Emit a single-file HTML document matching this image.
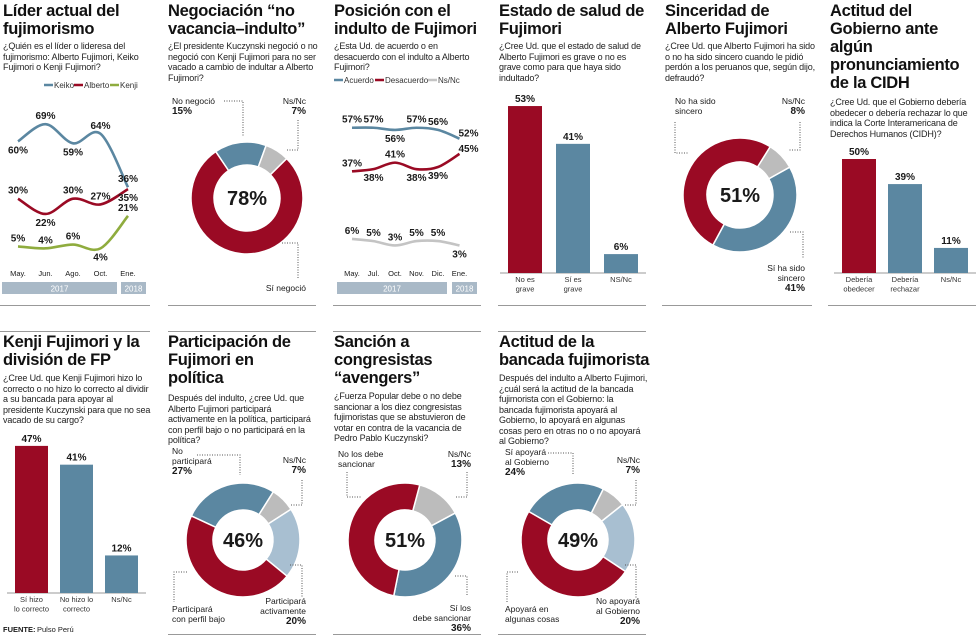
<!DOCTYPE html>
<html><head><meta charset="utf-8">
<style>
body{margin:0;width:980px;height:636px;background:#fff;overflow:hidden;font-family:"Liberation Sans",sans-serif;color:#1a1a1a;position:relative}
.t{position:absolute;font-weight:bold;font-size:16.5px;line-height:18px;letter-spacing:-0.3px;color:#111}
.s{position:absolute;font-size:9px;line-height:10.5px;color:#222;letter-spacing:-0.15px}
.rule{position:absolute;height:1px;background:#999}
svg{position:absolute;left:0;top:0}
</style></head><body>
<div class="t" style="left:3px;top:2px;width:150px">Líder actual del fujimorismo</div>
<div class="s" style="left:3px;top:41px;width:150px">¿Quién es el líder o lideresa del fujimorismo: Alberto Fujimori, Keiko Fujimori o Kenji Fujimori?</div>
<div class="t" style="left:168px;top:2px;width:150px">Negociación “no vacancia–indulto”</div>
<div class="s" style="left:168px;top:41px;width:150px">¿El presidente Kuczynski negoció o no negoció con Kenji Fujimori para no ser vacado a cambio de indultar a Alberto Fujimori?</div>
<div class="t" style="left:334px;top:2px;width:150px">Posición con el indulto de Fujimori</div>
<div class="s" style="left:334px;top:41px;width:150px">¿Esta Ud. de acuerdo o en desacuerdo con el indulto a Alberto Fujimori?</div>
<div class="t" style="left:499px;top:2px;width:150px">Estado de salud de Fujimori</div>
<div class="s" style="left:499px;top:41px;width:150px">¿Cree Ud. que el estado de salud de Alberto Fujimori es grave o no es grave como para que haya sido indultado?</div>
<div class="t" style="left:665px;top:2px;width:150px">Sinceridad de Alberto Fujimori</div>
<div class="s" style="left:665px;top:41px;width:150px">¿Cree Ud. que Alberto Fujimori ha sido o no ha sido sincero cuando le pidió perdón a los peruanos que, según dijo, defraudó?</div>
<div class="t" style="left:830px;top:2px;width:150px">Actitud del Gobierno ante algún pronunciamiento de la CIDH</div>
<div class="s" style="left:830px;top:97px;width:150px">¿Cree Ud. que el Gobierno debería obedecer o debería rechazar lo que indica la Corte Interamericana de Derechos Humanos (CIDH)?</div>

<div class="t" style="left:3px;top:333px;width:150px">Kenji Fujimori y la división de FP</div>
<div class="s" style="left:3px;top:373px;width:150px">¿Cree Ud. que Kenji Fujimori hizo lo correcto o no hizo lo correcto al dividir a su bancada para apoyar al presidente Kuczynski para que no sea vacado de su cargo?</div>
<div class="t" style="left:168px;top:333px;width:135px">Participación de Fujimori en política</div>
<div class="s" style="left:168px;top:393px;width:150px">Después del indulto, ¿cree Ud. que Alberto Fujimori participará activamente en la política, participará con perfil bajo o no participará en la política?</div>
<div class="t" style="left:334px;top:333px;width:150px">Sanción a congresistas “avengers”</div>
<div class="s" style="left:334px;top:391px;width:150px">¿Fuerza Popular debe o no debe sancionar a los diez congresistas fujimoristas que se abstuvieron de votar en contra de la vacancia de Pedro Pablo Kuczynski?</div>
<div class="t" style="left:499px;top:333px;width:155px">Actitud de la bancada fujimorista</div>
<div class="s" style="left:499px;top:373px;width:150px">Después del indulto a Alberto Fujimori, ¿cuál será la actitud de la bancada fujimorista con el Gobierno: la bancada fujimorista apoyará al Gobierno, lo apoyará en algunas cosas pero en otras no o no apoyará al Gobierno?</div>

<div class="rule" style="left:0;top:305px;width:150px"></div>
<div class="rule" style="left:168px;top:305px;width:148px"></div>
<div class="rule" style="left:333px;top:305px;width:148px"></div>
<div class="rule" style="left:498px;top:305px;width:148px"></div>
<div class="rule" style="left:662px;top:305px;width:150px"></div>
<div class="rule" style="left:828px;top:305px;width:148px"></div>
<div class="rule" style="left:0;top:331px;width:150px"></div>
<div class="rule" style="left:168px;top:331px;width:148px"></div>
<div class="rule" style="left:333px;top:331px;width:148px"></div>
<div class="rule" style="left:498px;top:331px;width:148px"></div>
<div class="rule" style="left:168px;top:634px;width:148px"></div>
<div class="rule" style="left:333px;top:634px;width:148px"></div>
<div class="rule" style="left:498px;top:634px;width:148px"></div>

<svg id="g" width="980" height="636"></svg>
<script>
// ---- data ----
const liderMonths=["May.","Jun.","Ago.","Oct.","Ene."];
const keiko=[60,69,59,64,36];
const alberto=[30,22,30,27,35];
const kenji=[5,4,6,4,21];
const posMonths=["May.","Jul.","Oct.","Nov.","Dic.","Ene."];
const acuerdo=[57,57,56,57,56,52];
const desacuerdo=[37,38,41,38,39,45];
const posNs=[6,5,3,5,5,3];
const negValues=[15,7,78];
const sincValues=[8,41,51];
const partValues=[27,7,20,46];
const sancValues=[13,36,51];
const bancValues=[24,7,20,49];
const saludCats=["No es|grave","Sí es|grave","NS/Nc"];
const saludValues=[53,41,6];
const cidhCats=["Debería|obedecer","Debería|rechazar","Ns/Nc"];
const cidhValues=[50,39,11];
const kenjiCats=["Sí hizo|lo correcto","No hizo lo|correcto","Ns/Nc"];
const kenjiValues=[47,41,12];

const RED="#9a0a24",BLUE="#5b87a1",GRAY="#bcbcbc",LBLUE="#a8bfd1";
const NS="http://www.w3.org/2000/svg";
const g=document.getElementById('g');
function el(tag,attrs,parent){const e=document.createElementNS(NS,tag);for(const k in attrs)e.setAttribute(k,attrs[k]);(parent||g).appendChild(e);return e;}
function txt(x,y,s,size,bold,anchor,fill){const t=el('text',{x:x,y:y,'font-size':size,'font-family':'Liberation Sans, sans-serif','font-weight':bold?'bold':'normal','text-anchor':anchor||'middle',fill:fill||'#1a1a1a'});t.textContent=s;return t;}
function smooth(pts){let d="M"+pts[0][0]+","+pts[0][1];for(let i=0;i<pts.length-1;i++){const p0=pts[i-1]||pts[i],p1=pts[i],p2=pts[i+1],p3=pts[i+2]||p2;const c1=[p1[0]+(p2[0]-p0[0])/6,p1[1]+(p2[1]-p0[1])/6],c2=[p2[0]-(p3[0]-p1[0])/6,p2[1]-(p3[1]-p1[1])/6];d+=" C"+c1+" "+c2+" "+p2;}return d;}

function lineChart(name,cats,series,x0,step,yfn,baseY,years){
  cats.forEach((c,i)=>{const t=txt(x0+i*step,baseY,c,7.5,false);
    
    });
  series.forEach(s=>{
    const pts=s.vals.map((v,i)=>[x0+i*step,yfn(v)]);
    const p=el('path',{d:smooth(pts),fill:'none',stroke:s.color,'stroke-width':2.6});
    
    
    s.vals.forEach((v,i)=>{const sd=s.side[i];
      let lx=pts[i][0],ly=pts[i][1]+(sd==='b'?12:-5);
      if(sd==='r'){lx+=9;ly=pts[i][1]-2;}
      if(sd==='rb'){lx+=9;ly=pts[i][1]+8;}
      const t=txt(lx,ly,v+"%",10,true);
      
      });
  });
  years.forEach(yb=>{const r=el('rect',{x:yb.x,y:baseY+6,width:yb.w,height:12,fill:'#a9b9c7'});
    
    
    txt(yb.x+yb.w/2,baseY+15.5,yb.label,8,false,'middle','#fff');});
}
lineChart('lider',liderMonths,[
 {key:'keiko',vals:keiko,color:BLUE,side:['b','a','b','a','a']},
 {key:'alberto',vals:alberto,color:RED,side:['a','b','a','a','b']},
 {key:'kenji',vals:kenji,color:'#8fac3e',side:['a','a','a','b','a']}],
 18,27.5,v=>256-1.91*v,276,[{x:2,w:115,label:'2017'},{x:121,w:25,label:'2018'}]);
lineChart('posicion',posMonths,[
 {key:'acuerdo',vals:acuerdo,color:BLUE,side:['a','a','b','a','a','r']},
 {key:'desacuerdo',vals:desacuerdo,color:RED,side:['a','b','a','b','b','r']},
 {key:'ns',vals:posNs,color:'#c4c4c4',side:['a','a','a','a','a','b']}],
 352,21.5,v=>252-2.18*v,276,[{x:337,w:110,label:'2017'},{x:452,w:25,label:'2018'}]);

function legend(name,items,x,y){let cx=x;items.forEach(it=>{
  const l=el('line',{x1:cx,y1:y-3,x2:cx+9,y2:y-3,stroke:it.c,'stroke-width':2.5});
  
  
  txt(cx+10,y,it.t,8,false,'start','#333');cx+=it.w;});}
legend('lider',[{t:'Keiko',c:BLUE,w:30},{t:'Alberto',c:RED,w:36},{t:'Kenji',c:'#8fac3e',w:30}],44,88);
legend('posicion',[{t:'Acuerdo',c:BLUE,w:41},{t:'Desacuerdo',c:RED,w:53},{t:'Ns/Nc',c:'#c4c4c4',w:30}],334,83);

function bars(name,cats,vals,x0,step,w,base,k,colors){
  el('line',{x1:x0-8,y1:base,x2:x0+step*2+w+8,y2:base,stroke:'#999','stroke-width':1});
  vals.forEach((v,i)=>{const x=x0+i*step,h=v*k;
    const r=el('rect',{x:x,y:base-h,width:w,height:h,fill:colors[i]});
    
    
    txt(x+w/2,base-h-4,v+"%",10,true);
    cats[i].split('|').forEach((ln,j)=>txt(x+w/2,base+9+j*9.5,ln,7.5,false,'middle','#333'));
  });}
bars('salud',saludCats,saludValues,508,48,34,273,3.15,[RED,BLUE,BLUE]);
bars('cidh',cidhCats,cidhValues,842,46,34,273,2.28,[RED,BLUE,BLUE]);
bars('kenji',kenjiCats,kenjiValues,15,45,33,593,3.13,[RED,BLUE,BLUE]);

function donut(name,vals,colors,cx,cy,R,r,start,center){
  let a=start*Math.PI/180;const tot=vals.reduce((s,v)=>s+v,0);
  vals.forEach((v,i)=>{const b=a+v/tot*2*Math.PI;const lg=(b-a)>Math.PI?1:0;
    const P=(rad,t)=>[cx+rad*Math.sin(t),cy-rad*Math.cos(t)];
    const [x1,y1]=P(R,a),[x2,y2]=P(R,b),[x3,y3]=P(r,b),[x4,y4]=P(r,a);
    const p=el('path',{d:`M${x1},${y1} A${R},${R} 0 ${lg} 1 ${x2},${y2} L${x3},${y3} A${r},${r} 0 ${lg} 0 ${x4},${y4}Z`,fill:colors[i],stroke:'#fff','stroke-width':1.5});
    
    
    a=b;});
  txt(cx,cy+7,center,20,true);}
donut('negociacion',negValues,[BLUE,GRAY,RED],247,198,56,33,-34,'78%');
donut('sinceridad',sincValues,[GRAY,BLUE,RED],740,195,57,33,32,'51%');
donut('participacion',partValues,[BLUE,GRAY,LBLUE,RED],243,540,57,30,-65,'46%');
donut('sancion',sancValues,[GRAY,BLUE,RED],405,540,57,30,15,'51%');
donut('bancada',bancValues,[BLUE,GRAY,LBLUE,RED],578,540,57,30,-60,'49%');

function dots(pts){el('polyline',{points:pts.join(' '),fill:'none',stroke:'#555','stroke-width':1,'stroke-dasharray':'1,1.5'});}
function lab(x,y,lines,anchor){lines.forEach((l,i)=>{txt(x,y+i*10,l[0],l[1]?10:8.5,l[1],anchor)});}
lab(172,104,[["No negoció"],["15%",1]],'start');lab(306,104,[["Ns/Nc"],["7%",1]],'end');lab(306,291,[["Sí negoció"]],'end');
dots([[224,101],[243,101],[243,137]]);dots([[298,120],[298,150],[287,150]]);dots([[282,243],[298,243],[298,278]]);
lab(675,104,[["No ha sido"],["sincero"]],'start');lab(805,104,[["Ns/Nc"],["8%",1]],'end');lab(805,271,[["Sí ha sido"],["sincero"],["41%",1]],'end');
dots([[675,122],[675,153],[688,153]]);dots([[800,122],[800,150],[788,150]]);dots([[790,232],[803,232],[803,258]]);
lab(172,454,[["No"],["participará"],["27%",1]],'start');lab(306,463,[["Ns/Nc"],["7%",1]],'end');
lab(306,604,[["Participará"],["activamente"],["20%",1]],'end');lab(172,612,[["Participará"],["con perfil bajo"]],'start');
dots([[197,455],[240,455],[240,475]]);dots([[302,480],[302,505],[290,505]]);dots([[290,565],[302,565],[302,598]]);dots([[187,572],[174,572],[174,602]]);
lab(338,457,[["No los debe"],["sancionar"]],'start');lab(471,457,[["Ns/Nc"],["13%",1]],'end');lab(471,611,[["Sí los"],["debe sancionar"],["36%",1]],'end');
dots([[347,472],[347,497],[362,497]]);dots([[467,472],[467,497],[455,497]]);dots([[455,576],[467,576],[467,596]]);
lab(505,455,[["Sí apoyará"],["al Gobierno"],["24%",1]],'start');lab(640,463,[["Ns/Nc"],["7%",1]],'end');
lab(640,604,[["No apoyará"],["al Gobierno"],["20%",1]],'end');lab(505,612,[["Apoyará en"],["algunas cosas"]],'start');
dots([[548,453],[573,453],[573,475]]);dots([[636,480],[636,505],[624,505]]);dots([[625,565],[636,565],[636,598]]);dots([[518,572],[507,572],[507,602]]);
txt(3,632,"FUENTE:",7.5,true,'start');txt(37,632,"Pulso Perú",7.5,false,'start');
</script>
</body></html>
